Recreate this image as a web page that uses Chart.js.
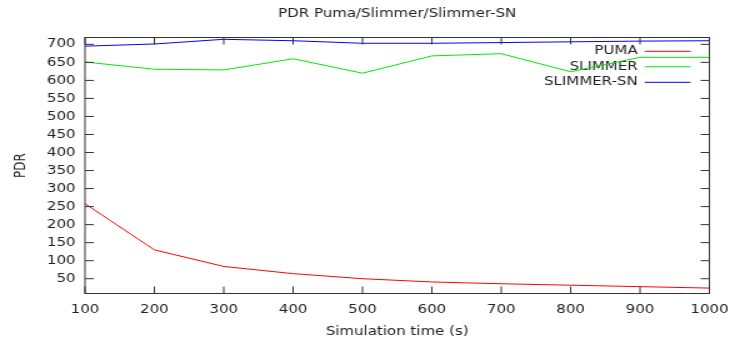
<!DOCTYPE html>
<html>
<head>
<meta charset="utf-8">
<title>PDR Puma/Slimmer/Slimmer-SN</title>
<script src="https://cdn.jsdelivr.net/npm/chart.js@4/dist/chart.umd.min.js"></script>
<style>
  html, body { margin: 0; padding: 0; background: #fff; }
  #pdr { display: block; }
</style>
</head>
<body>
<!-- drawn at 592 wide and shown at 740, like the old stretched gnuplot png -->
<canvas id="pdr" width="592" height="342" style="width:740px;height:342px"></canvas>
<script>
// simulation times (s)
const times = [100, 200, 300, 400, 500, 600, 700, 800, 900, 1000];

// packet delivery ratio per run
const puma      = [258, 130, 84, 64, 50, 41, 36, 32, 28, 24];
const slimmer   = [651, 631, 629, 660, 620, 668, 674, 624, 664, 664];
const slimmerSn = [695, 701, 714, 710, 703, 703, 705, 707, 709, 710];

const seriesNames  = ['PUMA', 'SLIMMER', 'SLIMMER-SN'];
const seriesColors = ['#ff0000', '#00eb00', '#0000ff'];

const xTicks = [100, 200, 300, 400, 500, 600, 700, 800, 900, 1000];
const yTicks = [50, 100, 150, 200, 250, 300, 350, 400, 450, 500, 550, 600, 650, 700];

const FONT = { family: 'DejaVu Sans', size: 12 };
const TEXT = '#222';

const toPoints = vals => vals.map((v, i) => ({ x: times[i], y: v }));

// box + inward ticks on all four sides, gnuplot style
const frame = {
  id: 'frame',
  afterDatasetsDraw(chart) {
    const { ctx, chartArea: { left, right, top, bottom }, scales: { x, y } } = chart;
    ctx.save();
    ctx.strokeStyle = '#333';
    ctx.lineWidth = 1;
    ctx.beginPath();
    xTicks.forEach(v => {
      const px = x.getPixelForValue(v);
      ctx.moveTo(px, bottom); ctx.lineTo(px, bottom - 7);
      ctx.moveTo(px, top); ctx.lineTo(px, top + 7);
    });
    yTicks.forEach(v => {
      const py = y.getPixelForValue(v);
      ctx.moveTo(left, py); ctx.lineTo(left + 7, py);
      ctx.moveTo(right, py); ctx.lineTo(right - 7, py);
    });
    ctx.stroke();
    ctx.strokeRect(left, top, right - left, bottom - top);
    ctx.restore();
  }
};

// key in the top right corner: label first, sample line after it
const key = {
  id: 'key',
  beforeDatasetsDraw(chart) {
    const { ctx, chartArea: { right, top } } = chart;
    chart.data.datasets.forEach((ds, i) => {
      const yy = top + 13.8 + i * 15.5;
      ctx.save();
      ctx.font = FONT.size + 'px "' + FONT.family + '"';
      ctx.textAlign = 'right';
      ctx.textBaseline = 'middle';
      ctx.fillStyle = TEXT;
      ctx.fillText(ds.label, right - 57.4, yy);
      ctx.restore();

      ctx.save();
      ctx.lineWidth = 1;
      ctx.strokeStyle = ds.borderColor;
      ctx.beginPath();
      ctx.moveTo(right - 51.8, yy);
      ctx.lineTo(right - 15, yy);
      ctx.stroke();
      ctx.restore();
    });
  }
};

// title centred over the plot area
const heading = {
  id: 'heading',
  afterDraw(chart) {
    const { ctx, chartArea: { left, right } } = chart;
    ctx.save();
    ctx.font = FONT.size + 'px "' + FONT.family + '"';
    ctx.fillStyle = TEXT;
    ctx.textAlign = 'center';
    ctx.textBaseline = 'middle';
    ctx.fillText('PDR Puma/Slimmer/Slimmer-SN', (left + right) / 2, 13.7);
    ctx.restore();
  }
};

new Chart(document.getElementById('pdr'), {
  type: 'line',
  data: {
    datasets: [puma, slimmer, slimmerSn].map((vals, i) => ({
      label: seriesNames[i],
      data: toPoints(vals),
      borderColor: seriesColors[i]
    }))
  },
  options: {
    responsive: false,
    animation: false,
    devicePixelRatio: 1,
    layout: { padding: { top: 37.5, right: 17.8, bottom: 0, left: 0 } },
    elements: {
      point: { radius: 0 },
      line: { borderWidth: 1, tension: 0, fill: false }
    },
    plugins: {
      legend: { display: false },
      title: { display: false },
      tooltip: { enabled: false }
    },
    scales: {
      x: {
        type: 'linear',
        min: 100,
        max: 1000,
        afterBuildTicks: s => { s.ticks = xTicks.map(v => ({ value: v })); },
        afterFit: s => { s.height = 48.5; },
        grid: { display: false, drawTicks: false },
        border: { display: false },
        ticks: { autoSkip: false, maxRotation: 0, padding: 9.2, color: TEXT, font: FONT, callback: v => String(v) },
        title: { display: true, text: 'Simulation time (s)', color: TEXT, font: FONT, padding: { top: 0, bottom: 3 } }
      },
      y: {
        type: 'linear',
        min: 9,
        max: 719,
        afterBuildTicks: s => { s.ticks = yTicks.map(v => ({ value: v })); },
        afterFit: s => { s.width = 68; },
        grid: { display: false, drawTicks: false },
        border: { display: false },
        ticks: { autoSkip: false, padding: 7.5, color: TEXT, font: FONT, callback: v => String(v) },
        title: { display: true, text: 'PDR', color: TEXT, font: FONT, padding: { top: 9.2, bottom: 0 } }
      }
    }
  },
  plugins: [frame, key, heading]
});
</script>
</body>
</html>
